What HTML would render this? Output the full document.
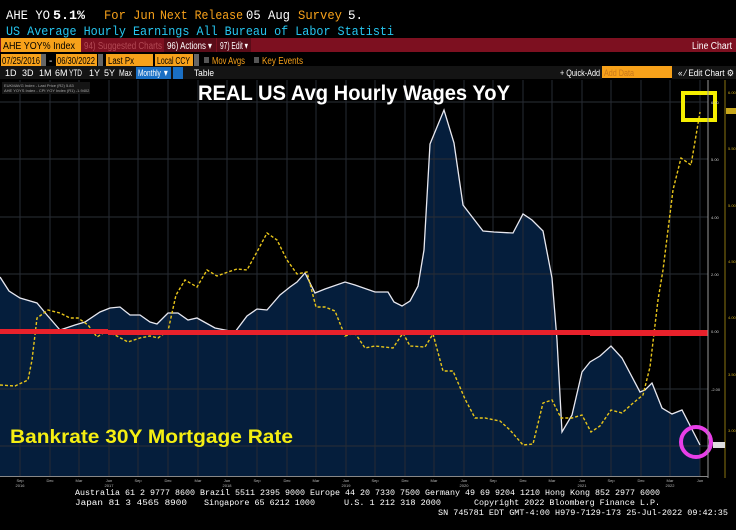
<!DOCTYPE html>
<html><head><meta charset="utf-8"><style>
body{margin:0;background:#000;width:736px;height:530px;overflow:hidden;font-family:"Liberation Mono",monospace}
svg{display:block}
</style></head><body>
<svg width="736" height="530" xmlns="http://www.w3.org/2000/svg" font-family="Liberation Sans, sans-serif" xml:space="preserve">
<rect width="736" height="530" fill="#000"/>
<!-- header -->
<g font-family="Liberation Mono, monospace" font-size="12.5">
<text x="6" y="19" fill="#fff" textLength="44" lengthAdjust="spacingAndGlyphs">AHE YO</text>
<text x="53" y="19" fill="#fff" font-weight="bold" textLength="32" lengthAdjust="spacingAndGlyphs">5.1%</text>
<text x="104" y="19" fill="#f7a11a" textLength="51" lengthAdjust="spacingAndGlyphs">For Jun</text>
<text x="160" y="19" fill="#f7a11a" textLength="83" lengthAdjust="spacingAndGlyphs">Next Release</text>
<text x="246" y="19" fill="#fff" textLength="44" lengthAdjust="spacingAndGlyphs">05 Aug</text>
<text x="298" y="19" fill="#f7a11a" textLength="44" lengthAdjust="spacingAndGlyphs">Survey</text>
<text x="348" y="19" fill="#fff">5.</text>
<text x="6" y="35" fill="#26c6f0" textLength="388" lengthAdjust="spacingAndGlyphs">US Average Hourly Earnings All  Bureau of Labor Statisti</text>
</g>
<rect x="0" y="38" width="736" height="14" fill="#7d1020"/>
<rect x="1" y="38" width="80" height="14" fill="#f7a11a"/>
<g font-size="10">
<text x="3" y="49" fill="#000" textLength="72" lengthAdjust="spacingAndGlyphs">AHE YOY% Index</text>
<text x="84" y="49" fill="#b34a55" textLength="78" lengthAdjust="spacingAndGlyphs">94) Suggested Charts</text>
<rect x="164" y="38" width="52" height="14" fill="#5a0c18"/>
<text x="167" y="49" fill="#fff" textLength="45" lengthAdjust="spacingAndGlyphs">96) Actions ▾</text>
<rect x="217" y="38" width="34" height="14" fill="#5a0c18"/>
<text x="220" y="49" fill="#fff" textLength="28" lengthAdjust="spacingAndGlyphs">97) Edit ▾</text>
<text x="692" y="49" fill="#fff" textLength="40" lengthAdjust="spacingAndGlyphs">Line Chart</text>
</g>
<rect x="0" y="53" width="736" height="14" fill="#000"/>
<g font-size="10">
<rect x="1" y="54" width="41" height="12" fill="#f7a11a"/><text x="2" y="64" fill="#000" textLength="38" lengthAdjust="spacingAndGlyphs">07/25/2016</text>
<rect x="41" y="54" width="5" height="12" fill="#666"/>
<text x="49" y="64" fill="#fff">-</text>
<rect x="56" y="54" width="41" height="12" fill="#f7a11a"/><text x="57" y="64" fill="#000" textLength="38" lengthAdjust="spacingAndGlyphs">06/30/2022</text>
<rect x="98" y="54" width="5" height="12" fill="#666"/>
<rect x="106" y="54" width="47" height="12" fill="#f7a11a"/><text x="108" y="64" fill="#000" textLength="26" lengthAdjust="spacingAndGlyphs">Last Px</text>
<rect x="155" y="54" width="38" height="12" fill="#f7a11a"/><text x="157" y="64" fill="#000" textLength="33" lengthAdjust="spacingAndGlyphs">Local CCY</text>
<rect x="194" y="54" width="5" height="12" fill="#666"/>
<rect x="204" y="57" width="5" height="6" fill="#555"/><text x="212" y="64" fill="#f7a11a" textLength="33" lengthAdjust="spacingAndGlyphs">Mov Avgs</text>
<rect x="254" y="57" width="5" height="6" fill="#555"/><text x="262" y="64" fill="#f7a11a" textLength="41" lengthAdjust="spacingAndGlyphs">Key Events</text>
</g>
<rect x="0" y="66" width="602" height="13" fill="#141414"/>
<rect x="672" y="66" width="64" height="13" fill="#141414"/>
<rect x="602" y="66" width="70" height="12" fill="#f7a11a"/>
<g font-size="9" fill="#fff">
<text x="5" y="76">1D</text><text x="22" y="76">3D</text><text x="39" y="76">1M</text><text x="55" y="76">6M</text><text x="69" y="76" textLength="13" lengthAdjust="spacingAndGlyphs">YTD</text><text x="89" y="76">1Y</text><text x="104" y="76">5Y</text><text x="119" y="76" textLength="13" lengthAdjust="spacingAndGlyphs">Max</text>
<rect x="136" y="67" width="35" height="12" fill="#1a6fc4"/><text x="138" y="76" textLength="31" lengthAdjust="spacingAndGlyphs">Monthly ▼</text>
<rect x="173" y="67" width="10" height="12" fill="#1a6fc4"/>
<text x="194" y="76" textLength="20" lengthAdjust="spacingAndGlyphs">Table</text>
<text x="560" y="76" textLength="40" lengthAdjust="spacingAndGlyphs">+ Quick-Add</text>
<text x="604" y="76" fill="#c8771a" textLength="30" lengthAdjust="spacingAndGlyphs">Add Data</text>
<text x="678" y="76" textLength="56" lengthAdjust="spacingAndGlyphs">« ⁄ Edit Chart ⚙</text>
</g>
<!-- plot -->
<rect x="0" y="80" width="708" height="396" fill="#000"/>
<polygon fill="#051e3c" points="0,277 9,291 20,298 37,303 47,315 60,330 75,325 85,322 100,312 110,308 120,307 130,315 140,315 150,322 157,324 168,313 178,313 188,320 197,318 215,328 235,332 247,316 257,309 267,310 280,295 290,287 297,282 305,273 315,293 325,289 345,282 355,285 375,292 388,292 394,302 402,306 410,301 418,286 424,250 430,144 444,110 454,143 463,205 483,231 494,232 513,233 523,214 532,220 543,231 552,278 557,340 562,432 572,415 582,372 590,362 600,356 611,346 622,358 640,392 645,390 652,383 662,408 672,414 682,410 700,445 700,476 0,476"/>
<g stroke="#2a2f36" stroke-width="1">
<line x1="0" y1="102" x2="708" y2="102"/><line x1="0" y1="159" x2="708" y2="159"/><line x1="0" y1="217" x2="708" y2="217"/><line x1="0" y1="274" x2="708" y2="274"/><line x1="0" y1="331" x2="708" y2="331"/><line x1="0" y1="389" x2="708" y2="389"/><line x1="0" y1="446" x2="708" y2="446"/>
</g>
<g stroke="#262b33" stroke-width="1">
<line x1="20" y1="80" x2="20" y2="476"/><line x1="50" y1="80" x2="50" y2="476"/><line x1="79" y1="80" x2="79" y2="476"/><line x1="109" y1="80" x2="109" y2="476"/><line x1="138" y1="80" x2="138" y2="476"/><line x1="168" y1="80" x2="168" y2="476"/><line x1="198" y1="80" x2="198" y2="476"/><line x1="227" y1="80" x2="227" y2="476"/><line x1="257" y1="80" x2="257" y2="476"/><line x1="287" y1="80" x2="287" y2="476"/><line x1="316" y1="80" x2="316" y2="476"/><line x1="346" y1="80" x2="346" y2="476"/><line x1="375" y1="80" x2="375" y2="476"/><line x1="405" y1="80" x2="405" y2="476"/><line x1="434" y1="80" x2="434" y2="476"/><line x1="464" y1="80" x2="464" y2="476"/><line x1="493" y1="80" x2="493" y2="476"/><line x1="523" y1="80" x2="523" y2="476"/><line x1="552" y1="80" x2="552" y2="476"/><line x1="582" y1="80" x2="582" y2="476"/><line x1="611" y1="80" x2="611" y2="476"/><line x1="641" y1="80" x2="641" y2="476"/><line x1="670" y1="80" x2="670" y2="476"/><line x1="700" y1="80" x2="700" y2="476"/>
</g>
<polyline fill="none" stroke="#e8e8f0" stroke-width="1.3" points="0,277 9,291 20,298 37,303 47,315 60,330 75,325 85,322 100,312 110,308 120,307 130,315 140,315 150,322 157,324 168,313 178,313 188,320 197,318 215,328 235,332 247,316 257,309 267,310 280,295 290,287 297,282 305,273 315,293 325,289 345,282 355,285 375,292 388,292 394,302 402,306 410,301 418,286 424,250 430,144 444,110 454,143 463,205 483,231 494,232 513,233 523,214 532,220 543,231 552,278 557,340 562,432 572,415 582,372 590,362 600,356 611,346 622,358 640,392 645,390 652,383 662,408 672,414 682,410 700,445"/>
<polyline fill="none" stroke="#e8c51a" stroke-width="1.4" stroke-dasharray="3,2" points="0,385 15,386 28,380 32,360 37,318 48,310 60,313 70,318 78,318 88,325 97,337 105,332 115,335 128,342 140,338 150,336 158,338 168,331 176,295 185,280 197,287 207,270 217,276 228,272 237,269 247,270 258,250 267,233 277,240 287,260 297,274 307,272 316,307 325,307 335,311 345,336 355,333 365,348 375,346 393,348 403,333 410,346 425,347 433,334 443,371 453,371 465,399 475,418 485,418 500,421 510,430 523,445 533,444 543,403 552,400 561,418 572,418 582,415 591,432 600,426 611,410 622,413 632,404 643,395 650,367 658,300 663,270 673,190 681,158 691,165 700,112"/>
<rect x="0" y="329" width="108" height="5" fill="#e8212b"/>
<rect x="108" y="330" width="600" height="5" fill="#e8212b"/>
<rect x="590" y="331" width="118" height="5" fill="#e8212b"/>
<!-- legend -->
<rect x="2" y="82" width="88" height="12" fill="#151515"/>
<g font-size="4" fill="#aaa"><text x="4" y="87">EUKMAVG Index - Last Price (R2)   5.83</text><text x="4" y="92">AHE YOYS Index - CPI YOY Index (R1)  -1.9402</text></g>
<!-- titles -->
<text x="198" y="100" fill="#fff" font-weight="bold" font-size="21" textLength="312" lengthAdjust="spacingAndGlyphs">REAL US Avg Hourly Wages YoY</text>
<text x="10" y="443" fill="#f5ee12" font-weight="bold" font-size="19" textLength="283" lengthAdjust="spacingAndGlyphs">Bankrate 30Y Mortgage Rate</text>
<!-- annotations -->
<rect x="683" y="93" width="32" height="27" fill="none" stroke="#f5ee00" stroke-width="4"/>
<circle cx="696" cy="442" r="15" fill="none" stroke="#e83ee8" stroke-width="4"/>
<!-- right axes -->
<line x1="708" y1="80" x2="708" y2="478" stroke="#999" stroke-width="1"/>
<line x1="725" y1="80" x2="725" y2="478" stroke="#8a7410" stroke-width="1"/>
<g font-size="4" fill="#ccc">
<text x="711" y="104">6.00</text><text x="711" y="161">5.00</text><text x="711" y="219">4.00</text><text x="711" y="276">2.00</text><text x="711" y="333">0.00</text><text x="711" y="391">-2.00</text>
</g>
<g font-size="4" fill="#c9a81a">
<text x="728" y="94">6.00</text><text x="728" y="150">5.50</text><text x="728" y="207">5.00</text><text x="728" y="263">4.50</text><text x="728" y="319">4.00</text><text x="728" y="376">3.50</text><text x="728" y="432">3.00</text>
</g>
<rect x="726" y="108" width="10" height="6" fill="#c9a81a"/>
<rect x="713" y="442" width="12" height="6" fill="#ddd"/>
<!-- x axis -->
<rect x="0" y="476" width="708" height="1" fill="#888"/>
<g font-size="4" fill="#bbb" text-anchor="middle">
<text x="20" y="482">Sep</text><text x="50" y="482">Dec</text><text x="79" y="482">Mar</text><text x="109" y="482">Jun</text><text x="138" y="482">Sep</text><text x="168" y="482">Dec</text><text x="198" y="482">Mar</text><text x="227" y="482">Jun</text><text x="257" y="482">Sep</text><text x="287" y="482">Dec</text><text x="316" y="482">Mar</text><text x="346" y="482">Jun</text><text x="375" y="482">Sep</text><text x="405" y="482">Dec</text><text x="434" y="482">Mar</text><text x="464" y="482">Jun</text><text x="493" y="482">Sep</text><text x="523" y="482">Dec</text><text x="552" y="482">Mar</text><text x="582" y="482">Jun</text><text x="611" y="482">Sep</text><text x="641" y="482">Dec</text><text x="670" y="482">Mar</text><text x="700" y="482">Jun</text>
<text x="20" y="487">2016</text><text x="109" y="487">2017</text><text x="227" y="487">2018</text><text x="346" y="487">2019</text><text x="464" y="487">2020</text><text x="582" y="487">2021</text><text x="670" y="487">2022</text>
</g>
<!-- footer -->
<g font-family="Liberation Mono, monospace" font-size="8.6" fill="#fff">
<text x="75" y="495" textLength="585" lengthAdjust="spacingAndGlyphs">Australia 61 2 9777 8600 Brazil 5511 2395 9000 Europe 44 20 7330 7500 Germany 49 69 9204 1210 Hong Kong 852 2977 6000</text>
<text x="75" y="505" textLength="112" lengthAdjust="spacingAndGlyphs">Japan 81 3 4565 8900</text>
<text x="204" y="505" textLength="111" lengthAdjust="spacingAndGlyphs">Singapore 65 6212 1000</text>
<text x="344" y="505" textLength="97" lengthAdjust="spacingAndGlyphs">U.S. 1 212 318 2000</text>
<text x="474" y="505" textLength="186" lengthAdjust="spacingAndGlyphs">Copyright 2022 Bloomberg Finance L.P.</text>
<text x="438" y="515" textLength="290" lengthAdjust="spacingAndGlyphs">SN 745781 EDT  GMT-4:00 H979-7129-173 25-Jul-2022 09:42:35</text>
</g>
</svg>
</body></html>
